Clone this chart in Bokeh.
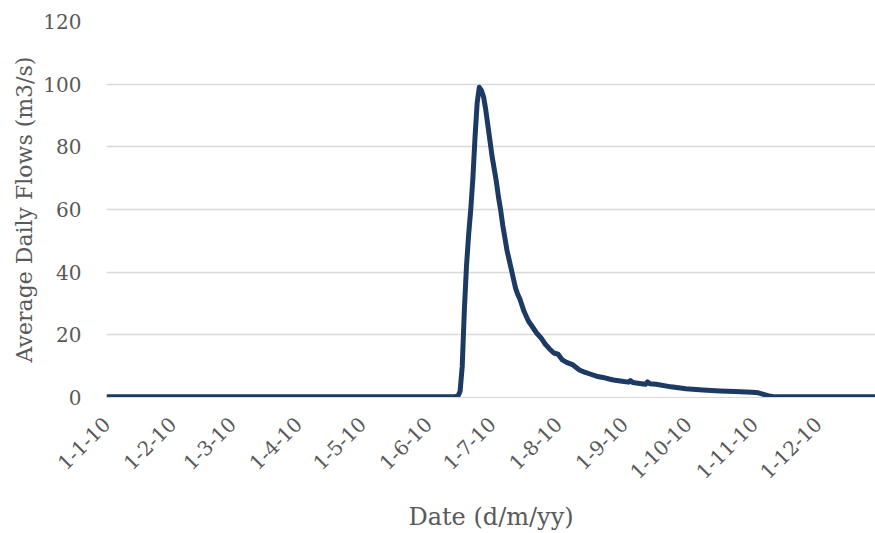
import pandas as pd
from math import pi
from bokeh.plotting import figure
from bokeh.models import Range1d, FixedTicker, ColumnDataSource
from bokeh.embed import file_html
from bokeh.resources import INLINE

# ---- data ----
dates = [
    "2010-01-01", "2010-06-13", "2010-06-15", "2010-06-16", "2010-06-17",
    "2010-06-18", "2010-06-19", "2010-06-20", "2010-06-21", "2010-06-22",
    "2010-06-23", "2010-06-24", "2010-06-25", "2010-06-26", "2010-06-27",
    "2010-06-28", "2010-06-29", "2010-06-30", "2010-07-01", "2010-07-02",
    "2010-07-03", "2010-07-04", "2010-07-05", "2010-07-06", "2010-07-07",
    "2010-07-08", "2010-07-09", "2010-07-10", "2010-07-11", "2010-07-12",
    "2010-07-13", "2010-07-14", "2010-07-15", "2010-07-16", "2010-07-17",
    "2010-07-18", "2010-07-20", "2010-07-22", "2010-07-24", "2010-07-26",
    "2010-07-28", "2010-07-30", "2010-08-01", "2010-08-03", "2010-08-05",
    "2010-08-08", "2010-08-11", "2010-08-13", "2010-08-16", "2010-08-19",
    "2010-08-22", "2010-08-25", "2010-08-27", "2010-08-31", "2010-09-03",
    "2010-09-04", "2010-09-05", "2010-09-10", "2010-09-11", "2010-09-12",
    "2010-09-13", "2010-09-16", "2010-09-23", "2010-09-30", "2010-10-08",
    "2010-10-16", "2010-10-23", "2010-10-31", "2010-11-03", "2010-11-05",
    "2010-11-08", "2010-11-11", "2010-12-31",
]
flows = [
    0.2, 0.2, 0.5, 2.0, 10.0,
    28.0, 42.0, 52.0, 60.0, 70.0,
    83.0, 94.0, 99.0, 98.0, 96.0,
    92.0, 87.0, 82.0, 77.0, 73.0,
    69.0, 64.0, 60.0, 55.0, 51.0,
    47.0, 44.0, 41.0, 38.0, 35.0,
    33.0, 31.5, 29.5, 27.5, 26.0,
    24.5, 22.5, 20.5, 19.0, 17.0,
    15.5, 14.2, 13.8, 12.0, 11.2,
    10.4, 8.8, 8.2, 7.5, 6.8,
    6.4, 5.9, 5.6, 5.2, 4.9,
    5.4, 4.8, 4.3, 4.2, 5.0,
    4.4, 4.2, 3.4, 2.8, 2.4,
    2.1, 1.9, 1.7, 1.5, 1.1,
    0.5, 0.2, 0.2,
]
month_starts = [
    "2010-01-01", "2010-02-01", "2010-03-01", "2010-04-01", "2010-05-01",
    "2010-06-01", "2010-07-01", "2010-08-01", "2010-09-01", "2010-10-01",
    "2010-11-01", "2010-12-01",
]
month_labels = [
    "1-1-10", "1-2-10", "1-3-10", "1-4-10", "1-5-10", "1-6-10",
    "1-7-10", "1-8-10", "1-9-10", "1-10-10", "1-11-10", "1-12-10",
]
y_ticks = [0, 20, 40, 60, 80, 100, 120]

# ---- figure ----
FONT = "DejaVu Serif"
GREY = "#595959"
GRID = "#d9d9d9"

src = ColumnDataSource(dict(date=pd.to_datetime(dates), flow=flows))

x_start = pd.Timestamp("2010-01-01")
x_end = x_start + pd.Timedelta(days=361)

p = figure(
    width=875, height=533,
    x_axis_type="datetime",
    x_range=Range1d(x_start, x_end),
    y_range=Range1d(0, 120),
    output_backend="svg", toolbar_location=None,
    min_border_left=106, min_border_right=0,
    min_border_top=21, min_border_bottom=134,
)
p.outline_line_color = None
p.background_fill_color = "white"
p.border_fill_color = "white"

p.line("date", "flow", source=src, line_color="#1c3a64", line_width=5,
       line_join="round")

tick_ms = [pd.Timestamp(d).timestamp() * 1000.0 for d in month_starts]

xa = p.xaxis[0]
xa.ticker = FixedTicker(ticks=tick_ms)
xa.major_label_overrides = {t: lab for t, lab in zip(tick_ms, month_labels)}
xa.major_label_orientation = pi / 4
xa.major_label_text_font = FONT
xa.major_label_text_font_size = "20px"
xa.major_label_text_color = GREY
xa.major_label_standoff = 17
xa.axis_line_color = GRID
xa.major_tick_line_color = None
xa.minor_tick_line_color = None
xa.axis_label = "Date (d/m/yy)"
xa.axis_label_text_font = FONT
xa.axis_label_text_font_size = "24px"
xa.axis_label_text_font_style = "normal"
xa.axis_label_text_color = GREY
xa.axis_label_standoff = 14

ya = p.yaxis[0]
ya.ticker = FixedTicker(ticks=y_ticks)
ya.major_label_text_font = FONT
ya.major_label_text_font_size = "20px"
ya.major_label_text_color = GREY
ya.major_label_standoff = 19
ya.axis_line_color = None
ya.major_tick_line_color = None
ya.minor_tick_line_color = None
ya.axis_label = "Average Daily Flows (m3/s)"
ya.axis_label_text_font = FONT
ya.axis_label_text_font_size = "22px"
ya.axis_label_text_font_style = "normal"
ya.axis_label_text_color = GREY
ya.axis_label_standoff = 3

p.xgrid.grid_line_color = None
p.ygrid.ticker = FixedTicker(ticks=y_ticks)
p.ygrid.grid_line_color = GRID
p.ygrid.grid_line_width = 1.5

open("out.html", "w").write(file_html(p, INLINE))
